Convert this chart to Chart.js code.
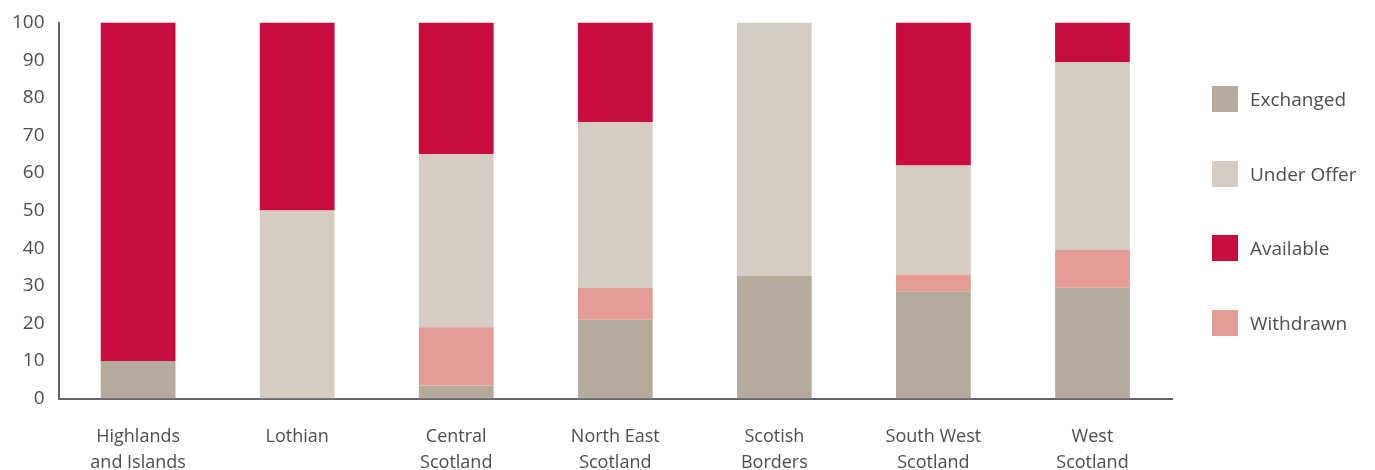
<!DOCTYPE html>
<html>
<head>
<meta charset="utf-8">
<script src="https://cdn.jsdelivr.net/npm/chart.js@4"></script>
<style>
  html, body { margin: 0; padding: 0; background: #fff; }
  #wrap { position: relative; width: 1375px; height: 470px; }
  #chart { position: absolute; left: 0; top: 0; }
  #legend { position: absolute; left: 1212px; top: 86px; font-family: "Open Sans", sans-serif; font-size: 19px; color: #4d4d4d; }
  .item { display: flex; align-items: center; height: 26px; margin-bottom: 48.5px; }
  .box { width: 26px; height: 26px; margin-right: 12px; }
</style>
</head>
<body>
<div id="wrap">
  <canvas id="chart" width="1375" height="470"></canvas>
  <div id="legend"></div>
</div>
<script>
const regions = [['Highlands', 'and Islands'], ['Lothian'], ['Central', 'Scotland'], ['North East', 'Scotland'], ['Scotish', 'Borders'], ['South West', 'Scotland'], ['West', 'Scotland']];
const exchanged  = [10, 0, 3.5, 21, 32.7, 28.5, 29.5];
const withdrawn  = [0, 0, 15.5, 8.5, 0, 4.5, 10];
const underOffer = [0, 50, 46, 44, 67.3, 29, 50];
const available  = [90, 50, 35, 26.5, 0, 38, 10.5];
const yTicks = [0, 10, 20, 30, 40, 50, 60, 70, 80, 90, 100];

const colors = {
    'Exchanged': '#b5aa9c',
    'Under Offer': '#d5cdc3',
    'Available': '#c80c3e',
    'Withdrawn': '#e59b96'
};
const legendOrder = ['Exchanged', 'Under Offer', 'Available', 'Withdrawn'];

const fontFamily = '"Open Sans", sans-serif';

// stacked bottom to top
const datasets = [
    { label: 'Exchanged', data: exchanged },
    { label: 'Withdrawn', data: withdrawn },
    { label: 'Under Offer', data: underOffer },
    { label: 'Available', data: available }
].map(d => ({ ...d, backgroundColor: colors[d.label], borderWidth: 0, barPercentage: 0.47, categoryPercentage: 1 }));

new Chart(document.getElementById('chart').getContext('2d'), {
    type: 'bar',
    data: { labels: regions, datasets: datasets },
    options: {
        responsive: false,
        animation: false,
        layout: { padding: { left: -2, right: 203, top: 0, bottom: -31 } },
        plugins: { legend: { display: false }, tooltip: { enabled: false } },
        scales: {
            x: {
                stacked: true,
                grid: { display: false, drawTicks: false },
                border: { color: '#666', width: 2 },
                ticks: { color: '#4d4d4d', font: { family: fontFamily, size: 18, lineHeight: 1.4 }, padding: 26, maxRotation: 0, autoSkip: false }
            },
            y: {
                stacked: true,
                min: 0, max: 100,
                afterBuildTicks: axis => { axis.ticks = yTicks.map(v => ({ value: v })); },
                grid: { display: false, drawTicks: false },
                border: { color: '#666', width: 2 },
                ticks: { color: '#4d4d4d', font: { family: fontFamily, size: 19, lineHeight: 0.9 }, padding: 14 }
            }
        }
    }
});

// legend
const legendEl = document.getElementById('legend');
legendOrder.forEach(name => {
    const item = document.createElement('div');
    item.className = 'item';
    const box = document.createElement('div');
    box.className = 'box';
    box.style.background = colors[name];
    const txt = document.createElement('span');
    txt.textContent = name;
    item.append(box, txt);
    legendEl.appendChild(item);
});
</script>
</body>
</html>
